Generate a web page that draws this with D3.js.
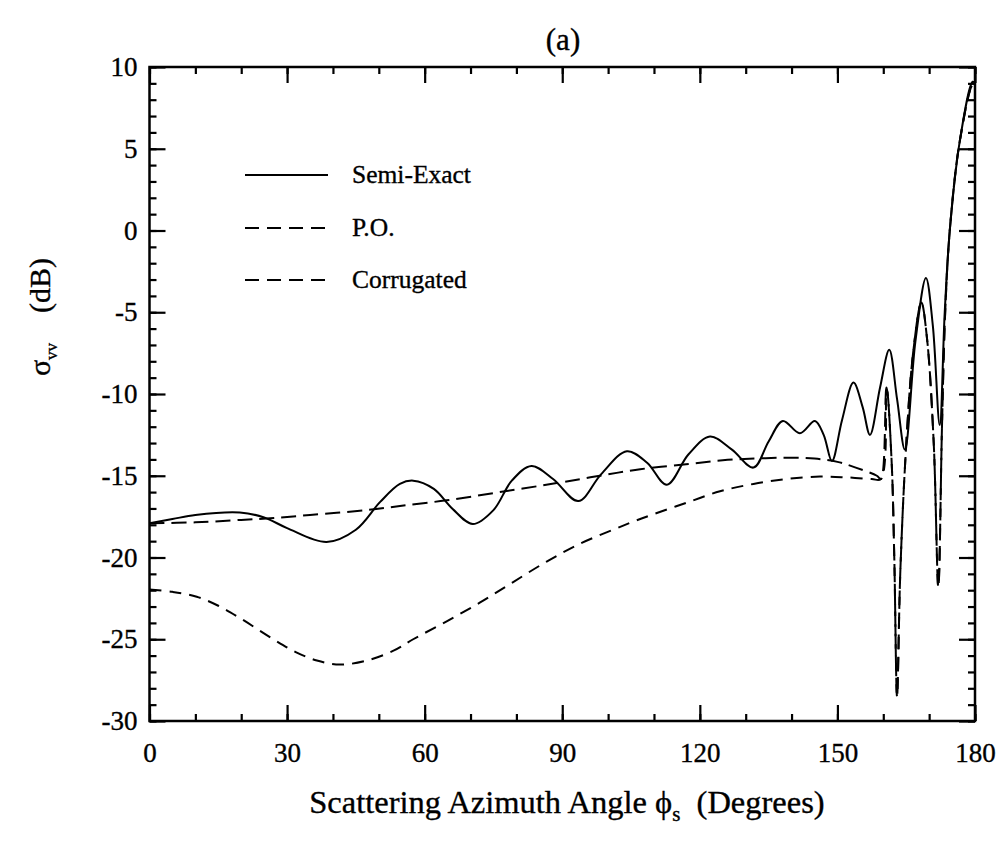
<!DOCTYPE html>
<html>
<head>
<meta charset="utf-8">
<script src="https://cdn.jsdelivr.net/npm/d3@7"></script>
<style>
  html, body { margin: 0; padding: 0; background: #fff; }
  svg { display: block; }
  text { font-family: "Liberation Serif", "Times New Roman", serif; fill: #000; stroke: #000; stroke-width: 0.35px; }
</style>
</head>
<body>
<svg id="chart" width="1007" height="858"></svg>
<script>
// ---- data ----
const semiAngles = [0, 5, 10, 19.7, 25, 30, 38.6, 45, 50.3, 54.6, 57.5, 62, 66, 70.5, 75, 79, 83.3, 88, 93.5, 98.5,
  104.1, 108.5, 112.8, 117.5, 122.2, 127, 131.7, 135, 138.1, 141.8, 145.1, 147, 148.8, 151, 153.5, 155.5, 157.1,
  159.3, 161.3, 163, 164.7, 167, 169.3, 170.8, 172.3, 173.4, 174.5, 176.7, 179.5, 180];
const semiValues = [-17.9, -17.65, -17.4, -17.25, -17.55, -18.2, -19.05, -18.3, -16.6, -15.5, -15.3, -15.8, -17.0, -17.95,
  -17.1, -15.3, -14.4, -15.2, -16.55, -14.9, -13.5, -14.2, -15.55, -13.7, -12.6, -13.4, -14.5, -12.9, -11.65, -12.4,
  -11.65, -12.5, -14.1, -11.6, -9.3, -10.8, -12.5, -9.6, -7.3, -10.3, -13.4, -6.8, -2.9, -5.8, -11.9, -5.0, 0.0, 5.5, 9.1, 9.0];

const poAngles = [0, 10, 20, 26.3, 35, 47.4, 54.6, 64.8, 76.4, 88.8, 98.2, 107, 117, 125, 132, 139, 145, 150, 154, 158.6,
  159.5, 160.7, 161.8, 162.4, 163, 163.7, 164.9, 166.5, 168.3, 169.5, 171, 172, 172.8, 173.5, 174.5, 176.7, 179.5, 180];
const poValues = [-17.9, -17.85, -17.7, -17.6, -17.4, -17.1, -16.85, -16.5, -16.0, -15.45, -15.0, -14.6, -14.3, -14.05,
  -13.95, -13.9, -13.95, -14.15, -14.5, -15.0, -15.2, -9.6, -14.0, -20.0, -28.5, -21.0, -13.6, -7.5, -4.4, -6.5, -13.0,
  -21.8, -12.0, -5.0, 0.0, 5.5, 8.9, 8.8];

const corrAngles = [0, 5, 10.3, 15, 19.7, 27, 32, 36.5, 41.5, 47.4, 53.2, 57.5, 64.8, 72.1, 79.3, 86.6, 93.9, 101.1, 105.5,
  109.9, 117.1, 124.4, 131.7, 138.9, 146.2, 152, 157.5, 159.5, 160.7, 161.8, 162.4, 163, 163.7, 164.9, 166.5, 168.3,
  169.5, 171, 172, 172.8, 173.5, 174.5, 176.7, 179.5, 180];
const corrValues = [-21.95, -22.1, -22.4, -22.95, -23.7, -25.0, -25.8, -26.3, -26.55, -26.3, -25.7, -25.0, -23.9, -22.75,
  -21.5, -20.25, -19.15, -18.3, -17.8, -17.35, -16.65, -15.95, -15.5, -15.2, -15.05, -15.1, -15.2, -15.2, -9.6, -14.0,
  -20.0, -28.5, -21.0, -13.6, -7.5, -4.4, -6.5, -13.0, -21.8, -12.0, -5.0, 0.0, 5.5, 8.9, 8.8];

const xTickValues = [0, 30, 60, 90, 120, 150, 180];
const yTickValues = [-30, -25, -20, -15, -10, -5, 0, 5, 10];
const legendLabels = ["Semi-Exact", "P.O.", "Corrugated"];

// ---- layout ----
const svg = d3.select("#chart");
const L = 149.5, R = 975, T = 67, B = 721;
const x = d3.scaleLinear().domain([0, 180]).range([L, R]);
const y = d3.scaleLinear().domain([-30, 10]).range([B, T]);

const xMinor = d3.range(0, 181, 10);
const yMinor = d3.range(-30, 11, 1);

function styleAxis(g) {
  g.select(".domain").remove();
  g.selectAll(".tick line").attr("stroke", "#000").attr("stroke-width", 2.2);
}
const fmt = d => String(d);

const MAJ = 16, MIN = 7;
// bottom
svg.append("g").attr("transform", `translate(0,${B})`)
  .call(d3.axisBottom(x).tickValues(xMinor).tickSize(-MIN).tickFormat("")).call(styleAxis);
svg.append("g").attr("transform", `translate(0,${B})`)
  .call(d3.axisBottom(x).tickValues(xTickValues).tickSize(-MAJ).tickPadding(22).tickFormat(fmt))
  .call(styleAxis)
  .call(g => g.selectAll("text").attr("font-size", 27).attr("font-family", "Liberation Serif"));
// top
svg.append("g").attr("transform", `translate(0,${T})`)
  .call(d3.axisTop(x).tickValues(xMinor).tickSize(-MIN).tickFormat("")).call(styleAxis);
svg.append("g").attr("transform", `translate(0,${T})`)
  .call(d3.axisTop(x).tickValues(xTickValues).tickSize(-MAJ).tickFormat("")).call(styleAxis);
// left
svg.append("g").attr("transform", `translate(${L},0)`)
  .call(d3.axisLeft(y).tickValues(yMinor).tickSize(-MIN).tickFormat("")).call(styleAxis);
svg.append("g").attr("transform", `translate(${L},0)`)
  .call(d3.axisLeft(y).tickValues(yTickValues).tickSize(-MAJ).tickPadding(12).tickFormat(fmt))
  .call(styleAxis)
  .call(g => g.selectAll("text").attr("font-size", 27).attr("font-family", "Liberation Serif"));
// right
svg.append("g").attr("transform", `translate(${R},0)`)
  .call(d3.axisRight(y).tickValues(yMinor).tickSize(-MIN).tickFormat("")).call(styleAxis);
svg.append("g").attr("transform", `translate(${R},0)`)
  .call(d3.axisRight(y).tickValues(yTickValues).tickSize(-MAJ).tickFormat("")).call(styleAxis);

// frame
svg.append("rect").attr("x", L).attr("y", T).attr("width", R - L).attr("height", B - T)
  .attr("fill", "none").attr("stroke", "#000").attr("stroke-width", 2.5);

// ---- curves ----
const line = d3.line().x(d => x(d[0])).y(d => y(d[1])).curve(d3.curveCatmullRom.alpha(0.5));
const series = [
  { a: semiAngles, v: semiValues, dash: null },
  { a: poAngles, v: poValues, dash: "15,7" },
  { a: corrAngles, v: corrValues, dash: "12,8" }
];
series.forEach(s => {
  svg.append("path")
    .datum(d3.zip(s.a, s.v))
    .attr("d", line)
    .attr("fill", "none")
    .attr("stroke", "#000")
    .attr("stroke-width", 2)
    .attr("stroke-linejoin", "round")
    .attr("stroke-dasharray", s.dash);
});

// ---- legend ----
const legY = [175, 228, 280];
const legDash = [null, "14,8", "14,8"];
legendLabels.forEach((lab, i) => {
  svg.append("line").attr("x1", 245).attr("x2", 328).attr("y1", legY[i]).attr("y2", legY[i])
    .attr("stroke", "#000").attr("stroke-width", 2).attr("stroke-dasharray", legDash[i]);
  svg.append("text").attr("x", 352).attr("y", legY[i] + 8).attr("font-size", 25.5).text(lab);
});

// ---- titles ----
svg.append("text").attr("x", 563).attr("y", 50).attr("text-anchor", "middle").attr("font-size", 31).text("(a)");

const xl = svg.append("text").attr("x", 567).attr("y", 813).attr("text-anchor", "middle").attr("font-size", 32.5);
xl.append("tspan").text("Scattering Azimuth Angle \u03D5");
xl.append("tspan").attr("font-size", 21).attr("dy", 8).text("s");
xl.append("tspan").attr("dy", -8).text("\u00A0\u00A0(Degrees)");

const yl = svg.append("text").attr("transform", "translate(50,317) rotate(-90)")
  .attr("text-anchor", "middle").attr("font-size", 30);
yl.append("tspan").text("\u03C3");
yl.append("tspan").attr("font-size", 17).attr("dy", 7).text("vv");
yl.append("tspan").attr("dy", -7).text("\u00A0\u00A0\u00A0\u00A0(dB)");
</script>
</body>
</html>
